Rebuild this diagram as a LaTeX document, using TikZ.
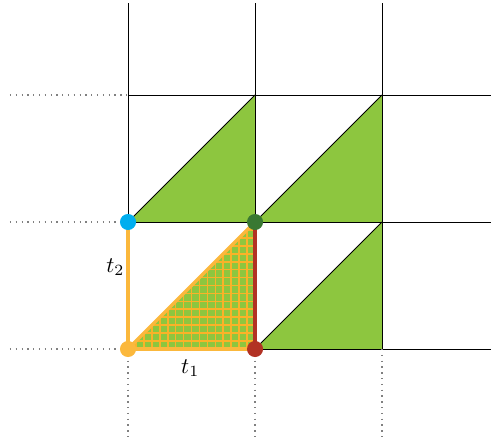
\documentclass[tikz,border=0pt]{standalone}
\definecolor{tgreen}{RGB}{141,198,63}
\definecolor{torange}{RGB}{251,184,60}
\definecolor{tpat}{RGB}{250,178,40}
\definecolor{tblue}{RGB}{0,174,239}
\definecolor{tdkgreen}{RGB}{57,120,50}
\definecolor{tred}{RGB}{178,50,36}
\begin{document}
\begin{tikzpicture}[x=2cm,y=2cm,
  gridline/.style={black,line width=0.4pt},
  guide/.style={gray,dotted,line width=0.6pt},
  dot/.style={circle,inner sep=0pt,minimum size=7.2pt},
  edgeor/.style={torange,line width=1.5pt},
  edgered/.style={tred,line width=1.5pt}]
\useasboundingbox (-1.008,-0.756) rectangle (2.858,2.748);
% green triangles
\fill[tgreen] (0,1) -- (1,2) -- (1,1) -- cycle;
\fill[tgreen] (1,1) -- (2,2) -- (2,1) -- cycle;
\fill[tgreen] (1,0) -- (2,1) -- (2,0) -- cycle;
\fill[tgreen] (0,0) -- (1,1) -- (1,0) -- cycle;
\begin{scope}
  \clip (0,0) -- (1,1) -- (1,0) -- cycle;
  \draw[tpat,line width=0.75pt,step=0.0625] (0,0) grid (1,1);
\end{scope}
\draw[black,line width=0.4pt] (0,1) -- (1,2) (1,1) -- (2,2) (1,0) -- (2,1);
% grid
\foreach \x in {0,1,2} \draw[gridline] (\x,0) -- (\x,2.725);
\foreach \y in {0,1,2} \draw[gridline] (0,\y) -- (2.858,\y);
\foreach \y in {0,1,2} \draw[guide] (-0.93,\y) -- (0,\y);
\foreach \x in {0,1,2} \draw[guide] (\x,0) -- (\x,-0.72);
% named points
\coordinate (pO) at (0,0);
\coordinate (pA) at (1,0);
\coordinate (pB) at (0,1);
\coordinate (pC) at (1,1);
\draw[edgeor] (pB) -- (pO) -- (pA);
\draw[edgeor] (pO) -- (pC);
\draw[edgered] (pA) -- (pC);
\node[dot,fill=torange] (dO) at (pO) {};
\node[dot,fill=tred] (dA) at (pA) {};
\node[dot,fill=tblue] (dB) at (pB) {};
\node[dot,fill=tdkgreen] (dC) at (pC) {};
\node (l2) at (-0.1,0.645) {$t_2$};
\node (l1) at (0.49,-0.15) {$t_1$};
\end{tikzpicture}
\end{document}
